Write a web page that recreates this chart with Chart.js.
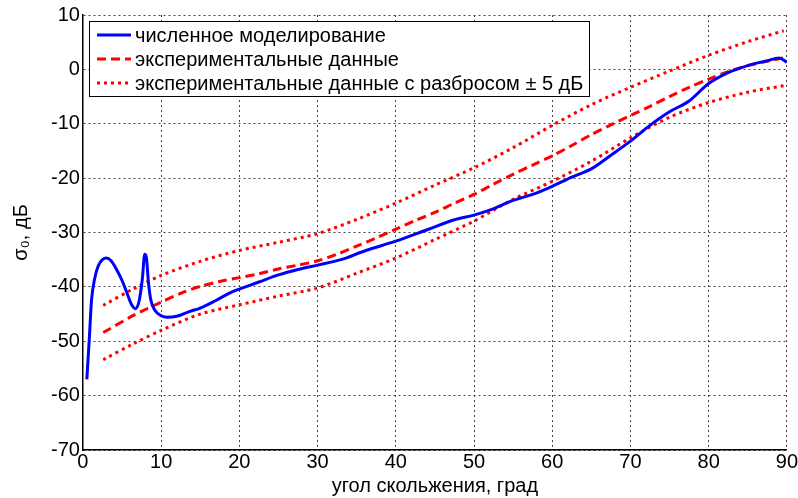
<!DOCTYPE html>
<html>
<head>
<meta charset="utf-8">
<script src="https://cdn.jsdelivr.net/npm/chart.js@4.4.0/dist/chart.umd.min.js"></script>
<style>
  html, body { margin: 0; padding: 0; background: #fff; }
  #wrap { width: 798px; height: 498px; }
</style>
</head>
<body>
<div id="wrap"><canvas id="lineChart"></canvas></div>
<script>
// numerical modelling (blue solid)
const simAngles = [0.5, 0.8, 1.1, 1.5, 2.0, 2.5, 3.0, 3.6, 4.3, 5.0, 5.6, 6.2, 6.7, 7.2, 7.6, 7.9, 8.1, 8.4, 8.7, 9.2,
    10, 10.8, 12, 13.7, 15, 17, 18.8, 20, 22.5, 25, 27.5, 30, 33, 36, 40, 44, 47.4, 50, 52, 55,
    57.5, 60, 62.5, 65, 67.5, 70, 72.5, 75, 77.5, 80, 82.5, 85, 87.5, 89, 90];
const simValues = [-57, -50, -42.5, -38.5, -36, -35, -34.7, -35.2, -36.8, -38.8, -41, -43.2, -44, -42.5, -38.5, -34, -34.5, -39.5, -42.5, -44.3,
    -45.3, -45.6, -45.4, -44.5, -43.9, -42.5, -41.1, -40.4, -39.1, -37.8, -36.8, -36, -35, -33.4, -31.6, -29.5, -27.7, -26.8, -25.9, -24.1,
    -23, -21.5, -19.8, -18.3, -15.8, -13.2, -10.3, -7.8, -5.8, -2.6, -0.6, 0.7, 1.6, 2.1, 1.3];

// experimental data (red dashed) and +-5 dB spread (red dotted)
const expAngles = [2.6, 6.4, 10, 12.5, 15, 17.5, 20, 22.5, 25, 27.5, 30, 32.5, 35, 37.5, 40, 42.5, 45, 47.5, 50, 52.5,
    55, 57.5, 60, 62.5, 65, 67.5, 70, 72.5, 75, 77.5, 80, 82.5, 85, 87.5, 89.5];
const expValues = [-48.4, -45.3, -42.8, -41.2, -39.9, -39, -38.3, -37.6, -36.7, -36, -35.2, -34, -32.5, -31, -29.4, -27.8, -26.3, -24.6, -23, -21.1,
    -19.3, -17.6, -15.9, -14, -12, -10.2, -8.5, -6.8, -5, -3.3, -1.8, -0.4, 0.7, 1.5, 2.1];

const spreadAngles = [2.6, 6.4, 10, 15, 20, 25, 30, 35, 40, 45, 50, 55, 60, 65, 70, 75, 80, 85, 89.6];
const upperValues = [-43.4, -40.4, -37.9, -35.3, -33.3, -31.8, -30.2, -27.6, -24.6, -21.3, -18.1, -14.4, -10.3, -6.5, -3.3, -0.3, 2.6, 5.1, 7.1];
const lowerValues = [-53.4, -50.5, -48, -45, -43.3, -41.7, -40.2, -37.5, -34.7, -31.3, -27.9, -23.9, -20.6, -16.9, -12.6, -8.8, -6.1, -4.2, -3.0];

const xTicks = [0, 10, 20, 30, 40, 50, 60, 70, 80, 90];
const yTicks = [-70, -60, -50, -40, -30, -20, -10, 0, 10];

const seriesLabels = [
    'численное моделирование',
    'экспериментальные данные',
    'экспериментальные данные с разбросом ± 5 дБ'
];

function toPoints(xs, ys) {
    return xs.map((x, i) => ({ x: x, y: ys[i] }));
}

const FONT = 'Liberation Sans, Arial, sans-serif';

// legend drawn by hand, MATLAB style box
const boxLegend = {
    id: 'boxLegend',
    afterDraw(chart) {
        const ctx = chart.ctx;
        const left = 89.5, top = 21.5, right = 589.5, bottom = 96.5;
        ctx.save();
        ctx.fillStyle = '#fff';
        ctx.fillRect(left, top, right - left, bottom - top);
        ctx.strokeStyle = '#000';
        ctx.lineWidth = 1;
        ctx.setLineDash([]);
        ctx.strokeRect(left, top, right - left, bottom - top);

        const rows = [35, 59, 83];
        const styles = [
            { color: '#0000ff', dash: [] },
            { color: '#ff0000', dash: [9, 5] },
            { color: '#ff0000', dash: [3, 4] }
        ];
        ctx.font = '20px ' + FONT;
        ctx.textBaseline = 'middle';
        rows.forEach((y, i) => {
            ctx.strokeStyle = styles[i].color;
            ctx.lineWidth = 3;
            ctx.setLineDash(styles[i].dash);
            ctx.beginPath();
            ctx.moveTo(97, y);
            ctx.lineTo(131, y);
            ctx.stroke();
            ctx.fillStyle = '#000';
            ctx.fillText(seriesLabels[i], 135, y + 1);
        });
        ctx.restore();
    }
};

const ctx = document.getElementById('lineChart').getContext('2d');
const chart = new Chart(ctx, {
    type: 'line',
    data: {
        datasets: [
            {
                label: seriesLabels[0],
                data: toPoints(simAngles, simValues),
                borderColor: '#0000ff',
                borderWidth: 3,
                pointRadius: 0,
                cubicInterpolationMode: 'monotone'
            },
            {
                label: seriesLabels[1],
                data: toPoints(expAngles, expValues),
                borderColor: '#ff0000',
                borderWidth: 3,
                borderDash: [9, 5],
                pointRadius: 0,
                tension: 0.3
            },
            {
                label: seriesLabels[2],
                data: toPoints(spreadAngles, upperValues),
                borderColor: '#ff0000',
                borderWidth: 3,
                borderDash: [3, 4],
                pointRadius: 0,
                tension: 0.3
            },
            {
                label: seriesLabels[2] + ' (низ)',
                data: toPoints(spreadAngles, lowerValues),
                borderColor: '#ff0000',
                borderWidth: 3,
                borderDash: [3, 4],
                pointRadius: 0,
                tension: 0.3
            }
        ]
    },
    options: {
        responsive: true,
        maintainAspectRatio: false,
        animation: false,
        layout: { padding: { top: 7, right: 11, left: 9, bottom: 0 } },
        plugins: {
            legend: { display: false },
            tooltip: { enabled: false }
        },
        scales: {
            x: {
                type: 'linear',
                min: 0,
                max: 90,
                afterBuildTicks: axis => { axis.ticks = xTicks.map(v => ({ value: v })); },
                ticks: { color: '#000', font: { family: FONT, size: 20 }, padding: 0, maxRotation: 0 },
                grid: { color: '#444', lineWidth: 1, drawTicks: false },
                border: { display: true, color: '#000', width: 1.5, dash: [2, 3] },
                title: { display: true, text: 'угол скольжения, град', color: '#000', font: { family: FONT, size: 20 }, padding: { top: 0, bottom: 0 } }
            },
            y: {
                min: -70,
                max: 10,
                afterBuildTicks: axis => { axis.ticks = yTicks.map(v => ({ value: v })); },
                ticks: { color: '#000', font: { family: FONT, size: 20 }, padding: 3 },
                grid: { color: '#444', lineWidth: 1, drawTicks: false },
                border: { display: true, color: '#000', width: 1.5, dash: [2, 3] },
                title: { display: true, text: 'σ₀, дБ', color: '#000', font: { family: FONT, size: 20 }, padding: { top: 0, bottom: 15 } }
            }
        }
    },
    plugins: [boxLegend]
});
</script>
</body>
</html>
